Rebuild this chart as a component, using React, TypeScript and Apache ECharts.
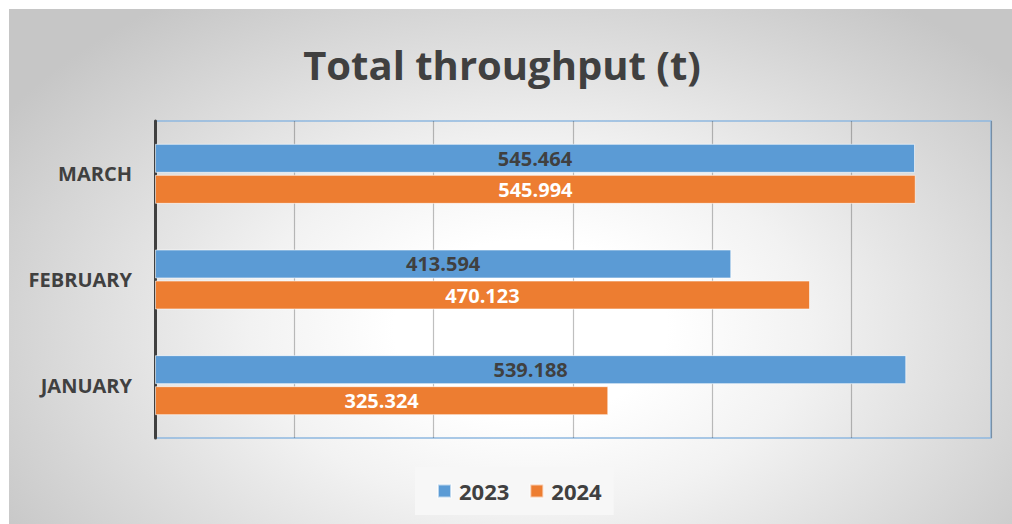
import React, { useEffect, useRef } from "react";
import * as echarts from "echarts";

const categories = ["JANUARY", "FEBRUARY", "MARCH"];
const series2023 = [539.188, 413.594, 545.464];
const series2024 = [325.324, 470.123, 545.994];
const seriesNames = ["2023", "2024"];
const titleText = "Total throughput (t)";
const FONT = "'Open Sans', sans-serif";

export default function App() {
  const ref = useRef<HTMLDivElement>(null);
  useEffect(() => {
    const chart = echarts.init(ref.current!, null, { renderer: "svg" });
    chart.setOption({
      animation: false,
      backgroundColor: "transparent",
      textStyle: { fontFamily: FONT },
      graphic: [
        {
          type: "text",
          x: 493,
          y: 55,
          style: {
            text: titleText,
            font: `bold 40px ${FONT}`,
            fill: "#404040",
            textAlign: "center",
            textVerticalAlign: "middle",
          },
        },
      ],
      legend: {
        data: seriesNames,
        left: 406,
        top: 458,
        padding: [13, 12, 13, 22],
        backgroundColor: "#f7f7f7",
        itemWidth: 13,
        itemHeight: 13,
        itemGap: 20,
        icon: "rect",
        textStyle: { fontSize: 22, fontWeight: "bold", color: "#404040", fontFamily: FONT, padding: [0, 0, 0, 3] },
      },
      grid: {
        left: 146,
        top: 112,
        width: 836,
        height: 317,
        show: true,
        borderColor: "#8fb8e0",
        borderWidth: 1.5,
        backgroundColor: "transparent",
      },
      xAxis: {
        type: "value",
        min: 0,
        max: 600,
        interval: 100,
        axisLabel: { show: false },
        axisLine: { show: false },
        axisTick: { show: false },
        splitLine: { show: true, lineStyle: { color: "rgba(0,0,0,0.25)", width: 1.2 } },
      },
      yAxis: {
        type: "category",
        data: categories,
        axisLine: { show: true, lineStyle: { color: "#404040", width: 3 } },
        axisTick: { show: false },
        axisLabel: { fontSize: 20, fontWeight: "bold", color: "#404040", margin: 23, fontFamily: FONT },
      },
      series: [
        {
          name: "2023",
          type: "bar",
          data: series2023,
          barWidth: 29,
          barGap: "7%",
          itemStyle: { color: "#5b9bd5", borderColor: "rgba(255,255,255,0.6)", borderWidth: 1 },
          label: {
            show: true,
            position: "inside",
            color: "#404040",
            fontSize: 20,
            fontWeight: "bold",
            fontFamily: FONT,
            formatter: (p: any) => p.value.toFixed(3),
          },
        },
        {
          name: "2024",
          type: "bar",
          data: series2024,
          barWidth: 29,
          barGap: "7%",
          itemStyle: { color: "#ed7d31", borderColor: "rgba(255,255,255,0.6)", borderWidth: 1 },
          label: {
            show: true,
            position: "inside",
            color: "#ffffff",
            fontSize: 20,
            fontWeight: "bold",
            fontFamily: FONT,
            formatter: (p: any) => p.value.toFixed(3),
          },
        },
      ],
    });
    return () => chart.dispose();
  }, []);
  return (
    <div style={{ position: "absolute", left: 0, top: 0, width: 1012, height: 524, background: "#ffffff" }}>
      <div
        ref={ref}
        style={{
          position: "absolute",
          left: 9,
          top: 9,
          width: 1003,
          height: 515,
          background:
            "radial-gradient(ellipse 62% 78% at 52% 62%, #ffffff 0%, #ffffff 22%, #f2f2f2 45%, #c6c6c6 100%)",
        }}
      />
    </div>
  );
}
